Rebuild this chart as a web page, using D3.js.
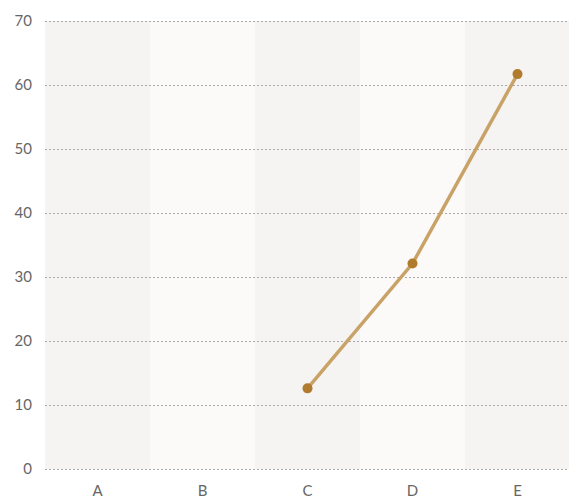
<!DOCTYPE html>
<html>
<head>
<meta charset="utf-8">
<script src="https://cdn.jsdelivr.net/npm/d3@7"></script>
<style>
  body { margin: 0; background: #fff; }
  text { font-family: Lato, sans-serif; }
</style>
</head>
<body>
<div id="chart"></div>
<script>
// chart data
var categories = ["A", "B", "C", "D", "E"];
var seriesCats = ["C", "D", "E"];
var seriesValues = [12.6, 32.1, 61.7];
var yTicks = [0, 10, 20, 30, 40, 50, 60, 70];

var width = 569,
    height = 498;
var margin = {top: 21, right: 0, bottom: 29, left: 45};

var svg = d3.select("#chart").append("svg")
    .attr("width", width)
    .attr("height", height);

var x = d3.scaleBand()
    .domain(categories)
    .range([margin.left, width + 1]);

var y = d3.scaleLinear()
    .domain([0, 70])
    .range([height - margin.bottom, margin.top]);

// alternating band backgrounds
svg.append("g")
    .selectAll("rect")
    .data(categories)
    .enter().append("rect")
    .attr("x", function(d) { return x(d); })
    .attr("y", y(70))
    .attr("width", x.bandwidth())
    .attr("height", y(0) - y(70))
    .attr("fill", function(d, i) { return i % 2 == 0 ? "#f5f4f2" : "#fbfaf9"; });

// dotted gridlines
svg.append("g")
    .selectAll("line")
    .data(yTicks)
    .enter().append("line")
    .attr("x1", margin.left)
    .attr("x2", width)
    .attr("y1", function(d) { return y(d) + 0.5; })
    .attr("y2", function(d) { return y(d) + 0.5; })
    .attr("stroke", "#a9a9a9")
    .attr("stroke-width", 1)
    .attr("stroke-dasharray", "2,2");

// y tick labels
svg.append("g")
    .selectAll("text")
    .data(yTicks)
    .enter().append("text")
    .attr("x", 32)
    .attr("y", function(d) { return y(d); })
    .attr("dy", "0.35em")
    .attr("text-anchor", "end")
    .attr("fill", "#666")
    .style("font-size", "15px")
    .text(function(d) { return d; });

// x tick labels
svg.append("g")
    .selectAll("text")
    .data(categories)
    .enter().append("text")
    .attr("x", function(d) { return x(d) + x.bandwidth() / 2; })
    .attr("y", 496)
    .attr("text-anchor", "middle")
    .attr("fill", "#666")
    .style("font-size", "15px")
    .text(function(d) { return d; });

var points = seriesCats.map(function(c, i) { return {cat: c, value: seriesValues[i]}; });

var line = d3.line()
    .x(function(d) { return x(d.cat) + x.bandwidth() / 2; })
    .y(function(d) { return y(d.value); });

svg.append("path")
    .datum(points)
    .attr("d", line)
    .attr("fill", "none")
    .attr("stroke", "#c9a267")
    .attr("stroke-width", 3.5);

svg.append("g")
    .selectAll("circle")
    .data(points)
    .enter().append("circle")
    .attr("cx", function(d) { return x(d.cat) + x.bandwidth() / 2; })
    .attr("cy", function(d) { return y(d.value); })
    .attr("r", 5)
    .attr("fill", "#b07b2c");
</script>
</body>
</html>
